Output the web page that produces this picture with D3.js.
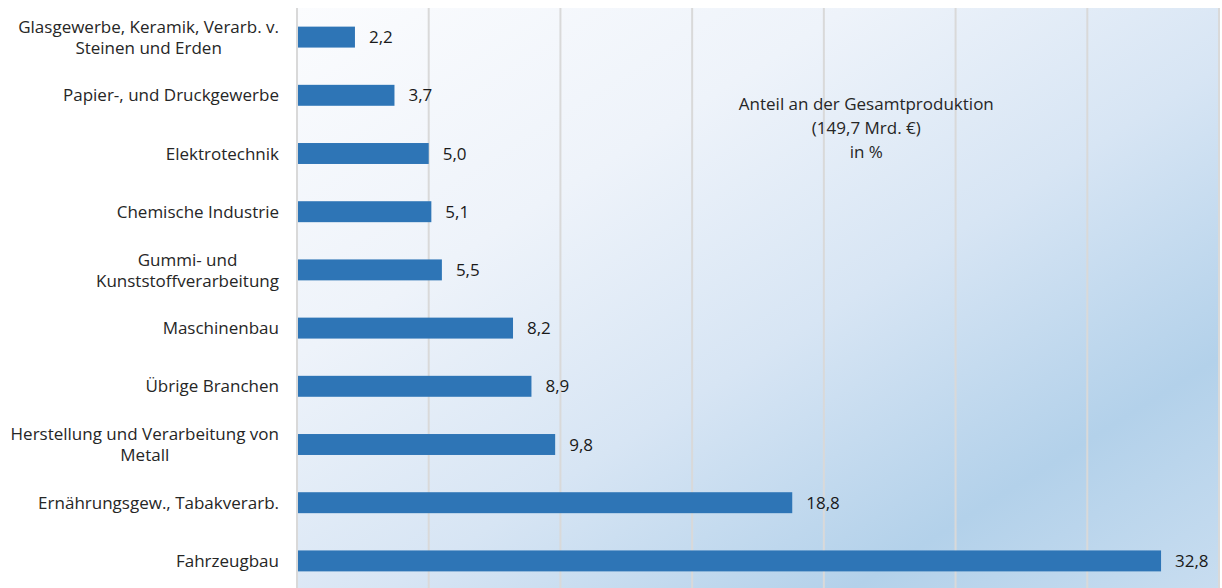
<!DOCTYPE html>
<html>
<head>
<meta charset="utf-8">
<script src="https://cdn.jsdelivr.net/npm/d3@7"></script>
<style>
  html, body { margin: 0; padding: 0; background: #fff; }
  svg { display: block; font-family: 'Open Sans', sans-serif; }
</style>
</head>
<body>
<svg id="chart" width="1222" height="588"></svg>
<script>
const categories = [
  ['Glasgewerbe, Keramik, Verarb. v.', 'Steinen und Erden'],
  ['Papier-, und Druckgewerbe'],
  ['Elektrotechnik'],
  ['Chemische Industrie'],
  ['Gummi- und', 'Kunststoffverarbeitung'],
  ['Maschinenbau'],
  ['Übrige Branchen'],
  ['Herstellung und Verarbeitung von', 'Metall'],
  ['Ernährungsgew., Tabakverarb.'],
  ['Fahrzeugbau'],
];
const values = [2.2, 3.7, 5.0, 5.1, 5.5, 8.2, 8.9, 9.8, 18.8, 32.8];
const gridTicks = [0, 5, 10, 15, 20, 25, 30, 35];
const titleLines = ['Anteil an der Gesamtproduktion', '(149,7 Mrd. €)', 'in %'];

const width = 1222, height = 588;
const margin = { top: 8, right: 2, bottom: -2, left: 296 };
const innerW = width - margin.left - margin.right;
const innerH = height - margin.top - margin.bottom;

const svg = d3.select('#chart');
const defs = svg.append('defs');
const grad = defs.append('linearGradient').attr('id', 'bg')
  .attr('x1', '0').attr('y1', '0').attr('x2', '1').attr('y2', '1');
[[0, '#fbfcfe'], [0.3, '#eef3fa'], [0.55, '#d7e5f4'], [0.8, '#b3d1ea'], [1, '#c8ddf0']]
  .forEach(([o, c]) => grad.append('stop').attr('offset', o).attr('stop-color', c));

const g = svg.append('g').attr('transform', `translate(${margin.left},${margin.top})`);

g.append('rect').attr('width', innerW).attr('height', innerH).attr('fill', 'url(#bg)');

const x = d3.scaleLinear().domain([0, 35]).range([0, innerW - 2]);
const y = d3.scaleBand().domain(d3.range(categories.length)).range([0, innerH]).paddingInner(0.64).paddingOuter(0.32);

// gridlines
g.selectAll('line.grid')
  .data(gridTicks)
  .enter()
  .append('line')
  .attr('class', 'grid')
  .attr('x1', (d) => x(d) + 1)
  .attr('x2', (d) => x(d) + 1)
  .attr('y1', 0)
  .attr('y2', innerH)
  .attr('stroke', '#d9d9d9')
  .attr('stroke-width', 2);

// bars
g.selectAll('rect.bar')
  .data(values)
  .enter()
  .append('rect')
  .attr('class', 'bar')
  .attr('x', x(0) + 2)
  .attr('y', (d, i) => y(i))
  .attr('width', (d) => x(d) - x(0) - 1)
  .attr('height', y.bandwidth())
  .attr('fill', '#2e75b6');

// value labels
g.selectAll('text.val')
  .data(values)
  .enter()
  .append('text')
  .attr('class', 'val')
  .attr('x', (d) => x(d) + 15)
  .attr('y', (d, i) => y(i) + y.bandwidth() / 2)
  .attr('dy', '0.36em')
  .style('font-size', '17px')
  .style('fill', '#1a1a1a')
  .text((d) => d.toFixed(1).replace('.', ','));

// category labels (multi-line blocks centred, right-aligned as block)
const labelRight = -17;
categories.forEach((lines, i) => {
  const cy = y(i) + y.bandwidth() / 2;
  const lh = 21;
  const t = g.append('text')
    .style('font-size', '17px')
    .style('fill', '#262626');
  lines.forEach((ln, j) => {
    t.append('tspan')
      .attr('y', cy + (j - (lines.length - 1) / 2) * lh)
      .attr('dy', '0.36em')
      .text(ln);
  });
  const widths = t.selectAll('tspan').nodes().map((n) => n.getComputedTextLength());
  const maxW = d3.max(widths);
  if (lines.length > 1) {
    t.attr('text-anchor', 'middle');
    t.selectAll('tspan').attr('x', labelRight - maxW / 2);
  } else {
    t.attr('text-anchor', 'end');
    t.selectAll('tspan').attr('x', labelRight);
  }
});

// title inside plot
const title = g.append('text')
  .attr('text-anchor', 'middle')
  .style('font-size', '17px')
  .style('fill', '#262626');
titleLines.forEach((ln, j) => {
  title.append('tspan')
    .attr('x', x(21.65))
    .attr('y', 96 + j * 24)
    .attr('dy', '0.36em')
    .text(ln);
});
</script>
</body>
</html>
